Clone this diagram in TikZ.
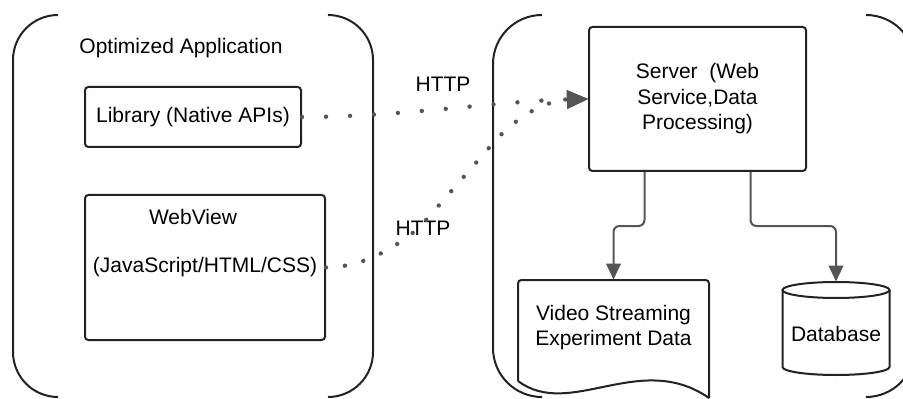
\documentclass[tikz,border=0pt]{standalone}
\usepackage{fontspec}
\setmainfont{Liberation Sans}
\usetikzlibrary{arrows.meta}

\tikzset{every picture/.style={line width=0.75pt}}

\begin{document}
\begin{tikzpicture}[x=0.75pt,y=0.75pt,yscale=-1,xscale=1,
  every node/.style={font=\fontsize{15.75}{19.1}\selectfont, inner sep=0pt},
  outline/.style={draw={rgb, 255:red, 34; green, 34; blue, 34 }, line width=1.5pt},
  boxnode/.style={outline, rounded corners=2.5pt, align=center},
  frame/.style={outline, rounded corners=33.75pt},
  flow/.style={draw={rgb, 255:red, 85; green, 85; blue, 85 }, line width=1.5pt, rounded corners=4.5pt, -{Triangle[length=12pt,width=11pt]}},
  httpline/.style={draw={rgb, 255:red, 85; green, 85; blue, 85 }, line width=3.3pt, line cap=round, dash pattern=on 0pt off 18pt, -{Triangle[length=15.75pt,width=14pt,line width=0.1pt]}}
]
\useasboundingbox (0,0) rectangle (903,399);
\clip (0,0) rectangle (903,399);

%Shape: left container
\draw [frame] (58,15) -- (13,15) -- (13,397) -- (58,397) ;
\draw [frame] (328,15) -- (373,15) -- (373,397) -- (328,397) ;
%Shape: right container
\draw [frame, rounded corners=36.75pt] (542,15) -- (493,15) -- (493,397) -- (542,397) ;
\draw [frame, rounded corners=36.75pt] (866,15) -- (915,15) -- (915,397) -- (866,397) ;

% Text Node
\node (apptitle) at (181,48) {Optimized Application};
%Flowchart: Process
\node [boxnode, minimum width=162pt, minimum height=45pt] (lib) at (193,117) {Library (Native APIs)};
%Flowchart: Process
\node [boxnode, minimum width=180pt, minimum height=108.75pt] (web) at (205,267.5) {(JavaScript/HTML/CSS)};
% Text Node
\node (webtitle) at (193,217) {WebView};

%Flowchart: Process
\node [boxnode, minimum width=162.75pt, minimum height=108pt] (srv) at (697.5,99) {Server\ \ (Web\\Service,Data\\Processing)};

%Flowchart: Document
\node [align=center, minimum height=71.25pt] (doc) at (613.5,327.5) {Video Streaming\\Experiment Data};
\draw [outline, rounded corners=2.5pt] (518,381) -- (518,280) -- (709,280) -- (709,398) ;
\draw [outline] (709,398) .. controls (640,350) and (570,420) .. (518,381) ;

%Shape: Can
\node [minimum height=78pt] (db) at (836,334) {Database};
\draw [outline] (836,290) ellipse [x radius=53.5, y radius=8] ;
\draw [outline] (782.5,290) -- (782.5,367) arc [start angle=180, end angle=0, x radius=53.5, y radius=8] -- (889.5,290) ;

% Text Node
\node (http1) at (443,84) {HTTP};
% Text Node
\node (http2) at (423,228) {HTTP};

%Straight Lines
\draw [flow] ([xshift=-39.75pt]srv.south) -- ++(0,54) -| (doc.north) ;
\draw [flow] ([xshift=39.75pt]srv.south) -- ++(0,54) -| (db.north) ;

%Dotted Lines
\draw [httpline] (lib.east) .. controls (400,117) and (500,101) .. (srv.west) ;
\draw [httpline, dash pattern=on 0pt off 14.25pt] (web.east) .. controls (360,267) and (390,252) .. (420,227) -- (495,141) .. controls (525,108) and (555,100) .. (srv.west) ;

\end{tikzpicture}
\end{document}
